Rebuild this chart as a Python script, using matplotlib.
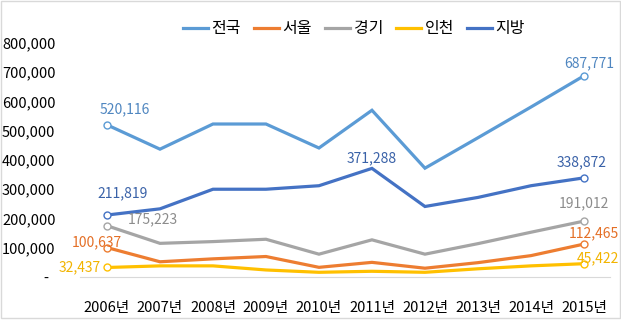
import numpy as np
import matplotlib.pyplot as plt
from matplotlib.ticker import FuncFormatter
from matplotlib.patches import Rectangle

plt.rcParams['font.family'] = ['Noto Sans CJK KR', 'DejaVu Sans']

years = ["2006년", "2007년", "2008년", "2009년", "2010년",
         "2011년", "2012년", "2013년", "2014년", "2015년"]

# 지역별 물량
nation = [520116, 437000, 523000, 523000, 441000, 570000, 372000, 476000, 581000, 687771]
seoul = [100637, 52000, 62000, 70000, 33000, 50000, 30000, 49000, 73000, 112465]
gyeonggi = [175223, 115000, 121000, 129000, 78000, 127000, 78000, 114000, 153000, 191012]
incheon = [32437, 38000, 38000, 24000, 16000, 19500, 16000, 28000, 38000, 45422]
local = [211819, 233000, 300000, 300000, 312000, 371288, 241000, 272000, 312000, 338872]

names = ["전국", "서울", "경기", "인천", "지방"]
series = [nation, seoul, gyeonggi, incheon, local]
colors = ["#5B9BD5", "#ED7D31", "#A5A5A5", "#FFC000", "#4472C4"]
text_colors = ["#4F86C0", "#E46F26", "#8C8C8C", "#F2B400", "#3A62A8"]

# (index, dx, dy, ha) offsets in points for value labels
labels = {
    0: [(0, 13, 11, "center"), (9, 4, 9, "center")],
    1: [(0, -7.5, 4, "center"), (9, 7, 8, "center")],
    2: [(0, 33, 4.5, "center"), (9, 0, 13, "center")],
    3: [(0, -4.5, 0, "right"), (9, 10, 4, "center")],
    4: [(0, 11, 16, "center"), (5, 0, 7, "center"), (9, -2, 11, "center")],
}

fig = plt.figure(figsize=(6.21, 3.22), dpi=100)
ax = fig.add_axes([0.1296, 0.1398, 0.8534, 0.7267])
x = np.arange(len(years))

for k, (name, vals, c) in enumerate(zip(names, series, colors)):
    ax.plot(x, vals, color=c, lw=2.3, label=name, solid_joinstyle='miter', zorder=2 + k)
    for i, dx, dy, ha in labels[k]:
        if not (k == 4 and i == 5):
            ax.plot(x[i], vals[i], 'o', ms=5, mfc='white', mec=c, mew=1.0, zorder=10)
        ax.annotate(f"{vals[i]:,}", (x[i], vals[i]), xytext=(dx, dy),
                    textcoords='offset points', ha=ha, va='center',
                    fontsize=10, color=text_colors[k], zorder=11)

ax.set_xlim(-0.5, len(years) - 0.5)
ax.set_ylim(0, 800000)
ax.set_yticks(np.arange(0, 800001, 100000))
ax.yaxis.set_major_formatter(FuncFormatter(lambda v, p: "-  " if v == 0 else f"{int(v):,}"))
ax.set_xticks(x)
ax.set_xticklabels(years)
ax.tick_params(axis='both', length=0, labelsize=10.5, colors='#000000')
ax.tick_params(axis='x', pad=17)
ax.tick_params(axis='y', pad=18)
for s in ['top', 'right', 'left']:
    ax.spines[s].set_visible(False)
ax.spines['bottom'].set_color('#D9D9D9')

fig.legend(loc='center', bbox_to_anchor=(0.57, 0.91), ncol=5, frameon=False,
           fontsize=11.5, handlelength=1.6, handletextpad=0.2, columnspacing=0.8)

fig.patches.append(Rectangle((0.001, 0.012), 0.997, 0.984, transform=fig.transFigure,
                             fill=False, edgecolor='#D9D9D9', lw=1))

fig.savefig("out.png", dpi=100)
